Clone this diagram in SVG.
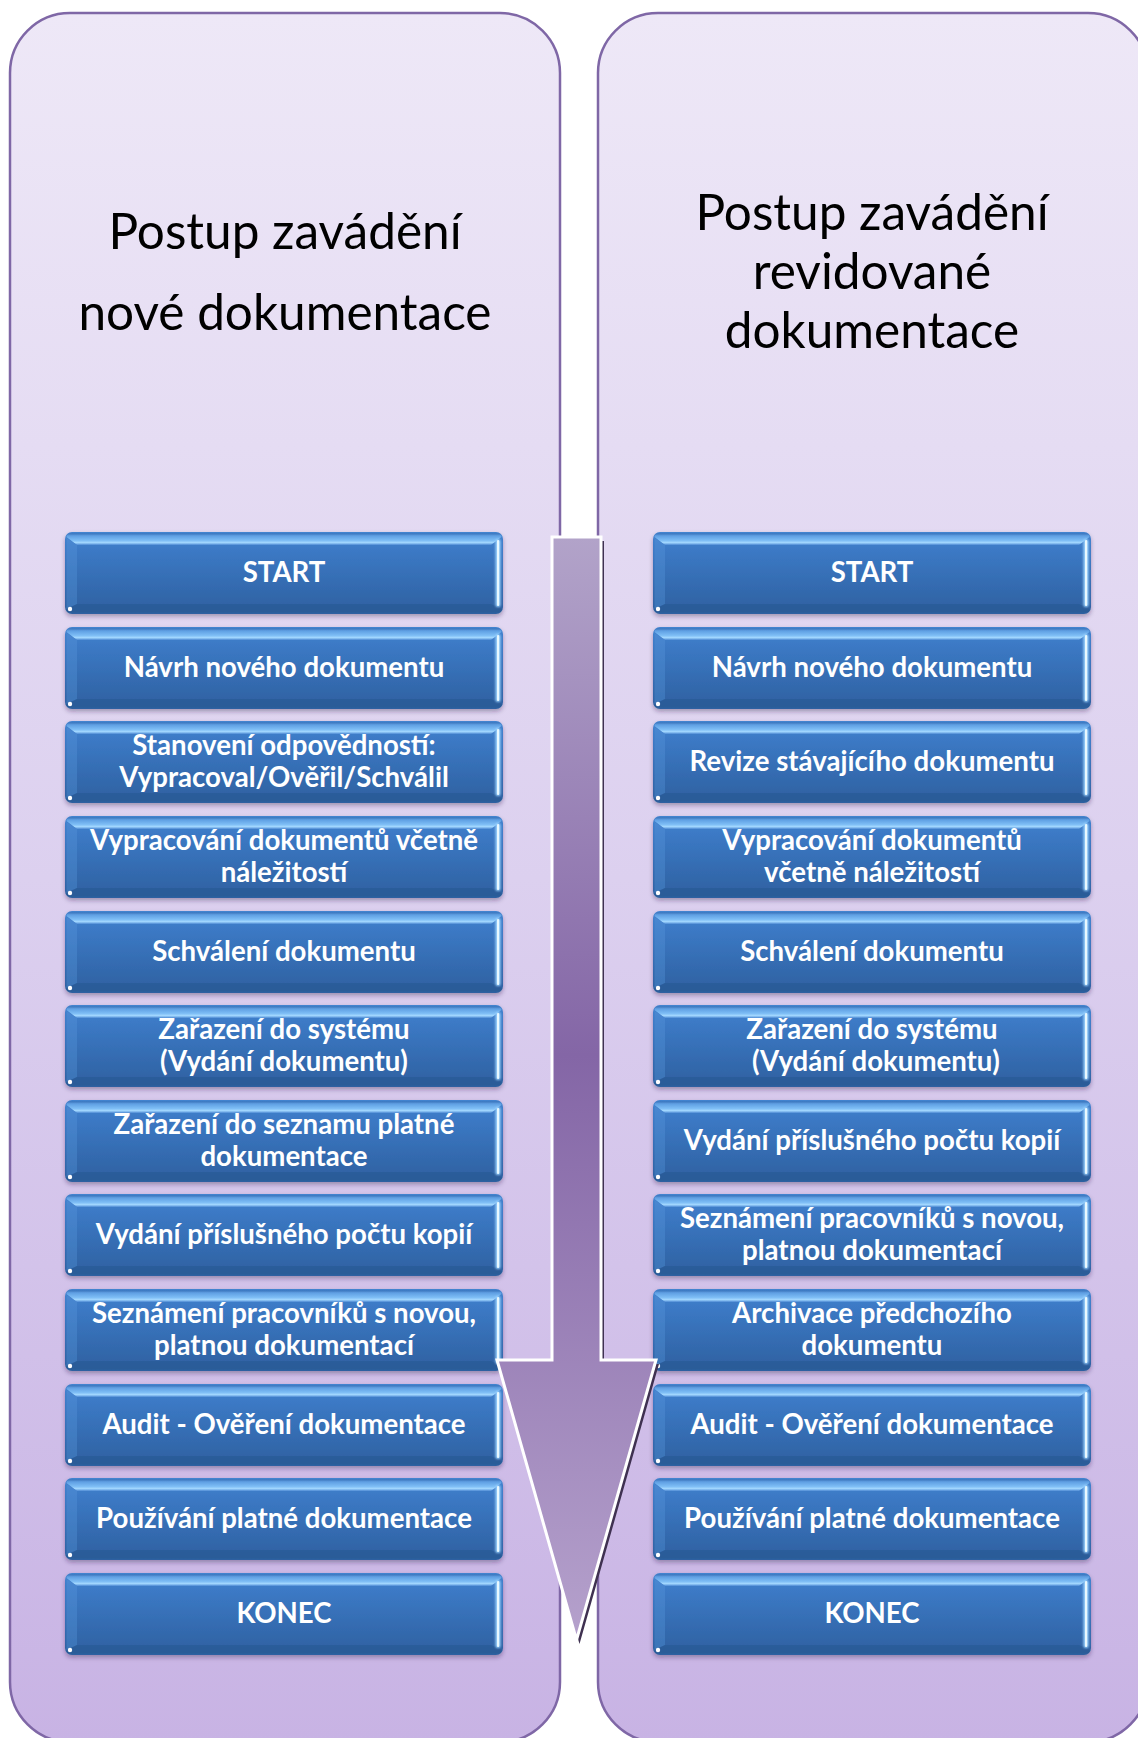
<svg xmlns="http://www.w3.org/2000/svg" xmlns:xlink="http://www.w3.org/1999/xlink" width="1138" height="1738" viewBox="0 0 1138 1738">
<style>
.tt{font-family:Lato,"Open Sans","Liberation Sans",sans-serif;font-size:49.5px;fill:#000;text-anchor:middle}
.bt{font-family:Lato,"Open Sans","Liberation Sans",sans-serif;font-weight:700;font-size:27.6px;fill:#fff;text-anchor:middle}
.panel{fill:url(#gPanel);stroke:#7f67a6;stroke-width:2.5}
</style>
<defs>
<linearGradient id="gPanel" gradientUnits="userSpaceOnUse" x1="0" y1="13" x2="0" y2="1742">
<stop offset="0" stop-color="#eee8f7"/>
<stop offset="0.5" stop-color="#dcd0ef"/>
<stop offset="1" stop-color="#c8b3e4"/>
</linearGradient>
<linearGradient id="gBase" x1="0" y1="0" x2="0" y2="1">
<stop offset="0" stop-color="#4383cf"/>
<stop offset="0.2" stop-color="#3c7ac6"/>
<stop offset="1" stop-color="#2e60a0"/>
</linearGradient>
<linearGradient id="gTop" x1="0" y1="0" x2="0" y2="1">
<stop offset="0" stop-color="#3b74bb"/>
<stop offset="0.2" stop-color="#5f9fe3"/>
<stop offset="0.6" stop-color="#7dbdf5"/>
<stop offset="0.8" stop-color="#a4d8ff"/>
<stop offset="1" stop-color="#4a88d3"/>
</linearGradient>
<linearGradient id="gArrow" gradientUnits="userSpaceOnUse" x1="0" y1="537" x2="0" y2="1640">
<stop offset="0" stop-color="#b2a3c9"/>
<stop offset="0.47" stop-color="#8466a6"/>
<stop offset="1" stop-color="#b5a1cc"/>
</linearGradient>
<filter id="sh" x="-5%" y="-10%" width="110%" height="130%">
<feDropShadow dx="0" dy="2.5" stdDeviation="2" flood-color="#2a2040" flood-opacity="0.35"/>
</filter>
<filter id="glow" x="-100%" y="-10%" width="300%" height="120%">
<feGaussianBlur stdDeviation="0.8"/>
</filter>
<g id="btn">
<rect x="0" y="0" width="438" height="82" rx="7" fill="url(#gBase)"/>
<path d="M5,1.5 H433 Q436.5,1.5 436.5,5 L426,13 H12 L1.5,5 Q1.5,1.5 5,1.5 Z" fill="url(#gTop)"/>
<path d="M1.5,6 L12,13 V72 L1.5,77 Z" fill="#5a98de" opacity="0.35"/>
<path d="M1.5,77 L12,72 H426 L436.5,77 V78 Q436.5,80.5 433,80.5 H5 Q1.5,80.5 1.5,78 Z" fill="#244f88" opacity="0.35"/>
<rect x="430.5" y="7" width="5" height="68" rx="2.5" fill="#9fd6ff" filter="url(#glow)"/>
<rect x="432" y="8" width="2.2" height="66" rx="1.1" fill="#e8f8ff"/>
<circle cx="5" cy="77" r="2.2" fill="#ffffff"/>
</g>
</defs>

<rect width="1138" height="1738" fill="#ffffff"/>

<g id="panel-left">
<rect class="panel" x="10" y="13" width="550" height="1729" rx="60"/>
<text class="tt" x="285" y="249">Postup zavádění</text>
<text class="tt" x="285" y="330">nové dokumentace</text>
</g>
<g id="panel-right">
<rect class="panel" x="598" y="13" width="550" height="1729" rx="60"/>
<text class="tt" x="872" y="230">Postup zavádění</text>
<text class="tt" x="872" y="289">revidované</text>
<text class="tt" x="872" y="348">dokumentace</text>
</g>

<g id="nodes-left">
<g id="l1"><use href="#btn" x="65" y="532" filter="url(#sh)"/><text class="bt" x="284" y="582">START</text></g>
<g id="l2"><use href="#btn" x="65" y="627" filter="url(#sh)"/><text class="bt" x="284" y="677">Návrh nového dokumentu</text></g>
<g id="l3"><use href="#btn" x="65" y="721" filter="url(#sh)"/><text class="bt" x="284" y="755">Stanovení odpovědností:</text><text class="bt" x="284" y="787">Vypracoval/Ověřil/Schválil</text></g>
<g id="l4"><use href="#btn" x="65" y="816" filter="url(#sh)"/><text class="bt" x="284" y="850">Vypracování dokumentů včetně</text><text class="bt" x="284" y="882">náležitostí</text></g>
<g id="l5"><use href="#btn" x="65" y="911" filter="url(#sh)"/><text class="bt" x="284" y="961">Schválení dokumentu</text></g>
<g id="l6"><use href="#btn" x="65" y="1005" filter="url(#sh)"/><text class="bt" x="284" y="1039">Zařazení do systému</text><text class="bt" x="284" y="1071">(Vydání dokumentu)</text></g>
<g id="l7"><use href="#btn" x="65" y="1100" filter="url(#sh)"/><text class="bt" x="284" y="1134">Zařazení do seznamu platné</text><text class="bt" x="284" y="1166">dokumentace</text></g>
<g id="l8"><use href="#btn" x="65" y="1194" filter="url(#sh)"/><text class="bt" x="284" y="1244">Vydání příslušného počtu kopií</text></g>
<g id="l9"><use href="#btn" x="65" y="1289" filter="url(#sh)"/><text class="bt" x="284" y="1323">Seznámení pracovníků s novou,</text><text class="bt" x="284" y="1355">platnou dokumentací</text></g>
<g id="l10"><use href="#btn" x="65" y="1384" filter="url(#sh)"/><text class="bt" x="284" y="1434">Audit - Ověření dokumentace</text></g>
<g id="l11"><use href="#btn" x="65" y="1478" filter="url(#sh)"/><text class="bt" x="284" y="1528">Používání platné dokumentace</text></g>
<g id="l12"><use href="#btn" x="65" y="1573" filter="url(#sh)"/><text class="bt" x="284" y="1623">KONEC</text></g>
</g>

<g id="nodes-right">
<g id="r1"><use href="#btn" x="653" y="532" filter="url(#sh)"/><text class="bt" x="872" y="582">START</text></g>
<g id="r2"><use href="#btn" x="653" y="627" filter="url(#sh)"/><text class="bt" x="872" y="677">Návrh nového dokumentu</text></g>
<g id="r3"><use href="#btn" x="653" y="721" filter="url(#sh)"/><text class="bt" x="872" y="771">Revize stávajícího dokumentu</text></g>
<g id="r4"><use href="#btn" x="653" y="816" filter="url(#sh)"/><text class="bt" x="872" y="850">Vypracování dokumentů</text><text class="bt" x="872" y="882">včetně náležitostí</text></g>
<g id="r5"><use href="#btn" x="653" y="911" filter="url(#sh)"/><text class="bt" x="872" y="961">Schválení dokumentu</text></g>
<g id="r6"><use href="#btn" x="653" y="1005" filter="url(#sh)"/><text class="bt" x="872" y="1039">Zařazení do systému</text><text class="bt" x="876" y="1071">(Vydání dokumentu)</text></g>
<g id="r7"><use href="#btn" x="653" y="1100" filter="url(#sh)"/><text class="bt" x="872" y="1150">Vydání příslušného počtu kopií</text></g>
<g id="r8"><use href="#btn" x="653" y="1194" filter="url(#sh)"/><text class="bt" x="872" y="1228">Seznámení pracovníků s novou,</text><text class="bt" x="872" y="1260">platnou dokumentací</text></g>
<g id="r9"><use href="#btn" x="653" y="1289" filter="url(#sh)"/><text class="bt" x="872" y="1323">Archivace předchozího</text><text class="bt" x="872" y="1355">dokumentu</text></g>
<g id="r10"><use href="#btn" x="653" y="1384" filter="url(#sh)"/><text class="bt" x="872" y="1434">Audit - Ověření dokumentace</text></g>
<g id="r11"><use href="#btn" x="653" y="1478" filter="url(#sh)"/><text class="bt" x="872" y="1528">Používání platné dokumentace</text></g>
<g id="r12"><use href="#btn" x="653" y="1573" filter="url(#sh)"/><text class="bt" x="872" y="1623">KONEC</text></g>
</g>

<g id="connectors">
<polygon points="552,537 601,537 601,1360 656,1360 576.5,1640 497,1360 552,1360" fill="#3f3151" transform="translate(3,4)"/>
<polygon points="552,537 601,537 601,1360 656,1360 576.5,1640 497,1360 552,1360" fill="url(#gArrow)" stroke="#ffffff" stroke-width="3" stroke-linejoin="miter"/>
</g>
</svg>
